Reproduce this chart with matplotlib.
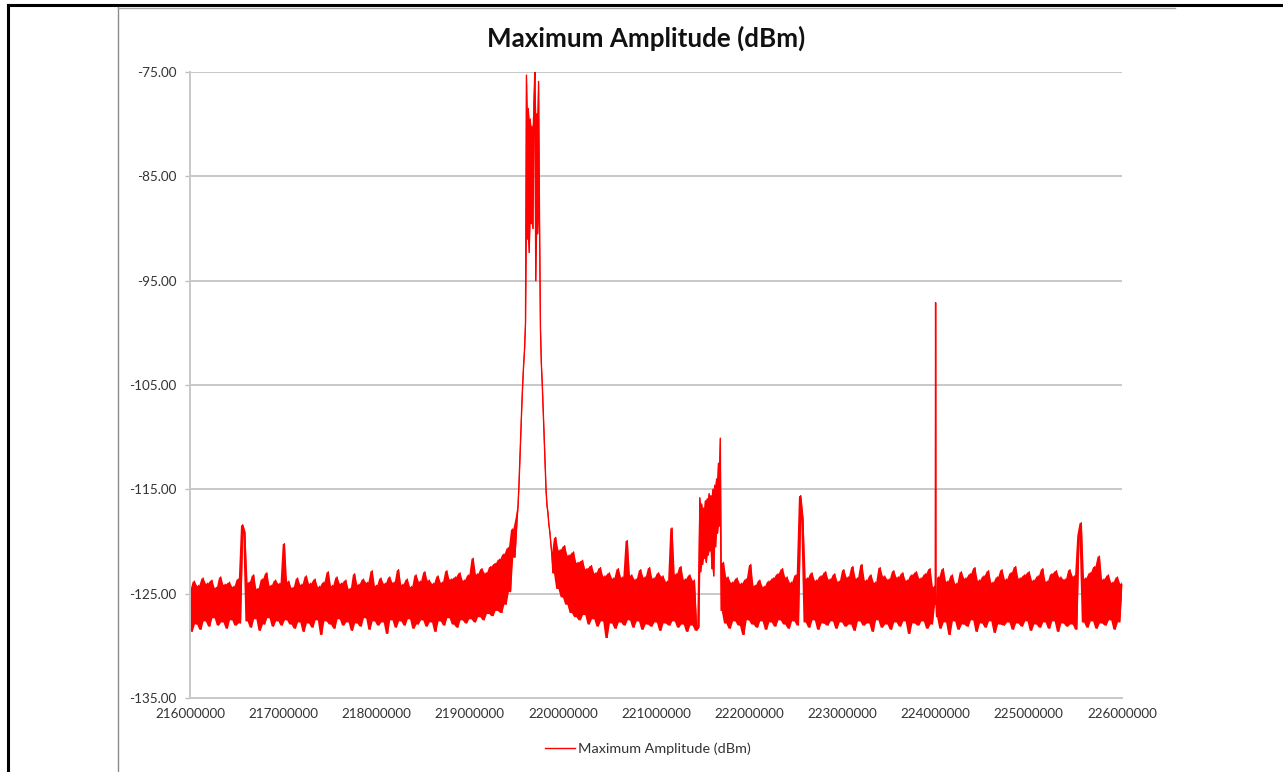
import numpy as np
from matplotlib import pyplot as plt
from matplotlib.lines import Line2D

# trace, in pieces: start / stop frequency (MHz) and amplitude (dBm)
left_start, left_stop = 216.00, 219.51
left_noise = [
    -124.6, -128.6, -123.8, -127.9, -124.2, -128.4, -123.5, -127.6, -124.0, -128.1,
    -123.7, -127.3, -124.4, -128.0, -123.4, -127.7, -124.1, -128.3, -123.9, -127.5,
    -124.3, -128.0, -123.6, -127.8, -118.4, -119.1, -127.6, -123.9, -128.2, -123.2,
    -127.4, -124.5, -128.5, -123.6, -127.9, -123.0, -127.3, -124.2, -128.1, -123.7,
    -127.6, -124.0, -128.0, -120.2, -127.5, -123.8, -127.9, -124.4, -128.3, -123.5,
    -127.7, -124.1, -128.6, -123.3, -127.8, -124.0, -128.2, -123.6, -127.5, -124.3,
    -128.9, -123.9, -127.6, -122.9, -127.9, -124.2, -128.3, -123.4, -127.4, -124.0,
    -128.0, -123.7, -127.7, -124.5, -128.5, -123.1, -127.8, -124.1, -128.1, -123.6,
    -127.3, -123.9, -128.4, -122.8, -127.6, -124.2, -128.0, -123.5, -127.7, -124.0,
    -128.8, -123.4, -127.5, -123.9, -128.2, -122.7, -127.6, -124.1, -128.0, -123.6,
    -127.4, -124.3, -128.3, -123.2, -127.9, -123.8, -127.5, -122.9, -128.1, -123.7,
    -127.7, -124.0, -128.6, -123.3, -127.6, -123.9, -128.0, -122.8, -127.3, -123.6,
    -127.9, -123.4, -128.2, -123.0, -127.5, -123.7, -127.8, -123.2, -127.4, -121.6,
    -127.7, -123.1, -127.2, -122.6, -127.5, -123.0, -126.9, -122.4, -127.1, -122.1,
    -126.6, -121.7, -126.8, -121.2, -126.0, -120.6, -124.8, -118.8, -121.5, -117.8,
]

carrier_start, carrier_stop = 219.52, 219.88
carrier = [
    -116.5, -114.5, -112.0, -109.5, -107.0, -104.8, -103.0, -101.5, -99.0,
    -75.3, -91.0, -78.5, -92.3, -79.5, -89.5, -80.2, -90.0, -78.0, -75.0,
    -95.0, -79.0, -90.5, -75.9, -89.0,
    -99.5, -103.0, -105.0, -107.5, -110.0, -112.5, -115.0, -116.5, -117.2,
    -118.3, -119.0, -120.0, -121.0,
]

mid_start, mid_stop = 219.90, 221.46
mid_noise = [
    -123.0, -119.6, -124.5, -120.8, -125.3, -120.4, -126.0, -121.3, -126.8, -121.0,
    -127.2, -122.0, -127.5, -121.8, -127.0, -122.6, -127.9, -122.3, -127.4, -123.0,
    -128.1, -122.5, -127.6, -123.3, -129.2, -123.0, -127.8, -123.5, -128.3, -122.6,
    -127.7, -123.4, -128.0, -119.9, -127.5, -123.2, -128.2, -123.6, -127.6, -122.7,
    -128.4, -123.4, -127.9, -122.5, -128.1, -123.5, -127.7, -123.0, -128.5, -123.3,
    -127.8, -123.8, -128.0, -118.7, -127.6, -123.1, -128.2, -122.4, -127.9, -123.6,
    -128.6, -123.2, -128.0, -123.7, -128.5, -128.2,
]

hump_start, hump_stop = 221.47, 221.69
hump = [
    -115.8, -122.9, -116.4, -122.2, -116.8, -121.6, -116.1, -122.0, -115.9, -121.3,
    -115.4, -120.9, -115.6, -122.6, -115.0, -123.3, -114.6, -120.5, -114.0, -119.2,
    -112.5, -118.5, -110.1,
]

right_start, right_stop = 221.70, 223.99
right_noise = [
    -126.6, -122.0, -127.8, -123.4, -128.3, -123.9, -127.6, -123.5, -128.0, -124.0,
    -128.9, -123.6, -127.5, -122.2, -127.9, -124.2, -128.2, -123.7, -127.6, -124.3,
    -128.4, -123.8, -127.7, -123.5, -128.1, -123.1, -127.5, -122.6, -127.9, -123.4,
    -128.3, -123.9, -127.6, -123.2, -128.0, -115.6, -117.8, -127.7, -123.5, -128.2,
    -123.0, -127.5, -123.7, -128.4, -123.3, -127.8, -122.9, -128.0, -123.6, -127.6,
    -123.1, -128.3, -123.8, -127.7, -122.7, -128.1, -123.4, -127.9, -122.4, -128.5,
    -123.5, -127.6, -122.2, -128.0, -123.7, -127.8, -123.2, -128.6, -123.9, -127.5,
    -122.5, -128.2, -123.3, -127.9, -123.6, -128.4, -122.8, -127.7, -123.4, -128.1,
    -123.0, -127.6, -123.7, -128.8, -123.2, -127.8, -122.9, -128.0, -123.5, -127.6,
    -123.1, -128.3, -122.6, -127.9, -124.3,
]

spur_start, spur_stop = 223.996, 224.004
spur = [-126.0, -97.1, -125.8]

far_start, far_stop = 224.01, 226.00
far_noise = [
    -127.2, -123.4, -128.3, -122.6, -127.7, -123.8, -128.9, -123.2, -127.6, -124.0,
    -128.4, -122.9, -127.9, -123.5, -128.1, -123.1, -127.5, -122.5, -128.6, -123.7,
    -127.8, -123.3, -128.2, -122.8, -127.6, -123.9, -128.7, -123.4, -127.9, -122.7,
    -128.0, -123.6, -127.7, -123.0, -128.4, -122.4, -127.8, -123.5, -128.1, -123.2,
    -127.6, -122.9, -128.5, -123.7, -127.9, -123.3, -128.2, -122.6, -127.7, -123.8,
    -128.3, -123.1, -127.6, -122.8, -128.6, -123.4, -127.8, -123.6, -128.1, -122.7,
    -127.9, -123.3, -128.4, -119.4, -118.2, -127.7, -123.5, -128.2, -123.0, -127.6,
    -122.4, -128.3, -121.4, -127.8, -123.6, -128.0, -123.2, -127.5, -123.9, -128.4,
    -123.4, -127.7, -124.0,
]

x_ticks = [216000000, 217000000, 218000000, 219000000, 220000000, 221000000,
           222000000, 223000000, 224000000, 225000000, 226000000]
y_ticks = [-135.0, -125.0, -115.0, -105.0, -95.0, -85.0, -75.0]

title = "Maximum Amplitude (dBm)"
series_name = "Maximum Amplitude (dBm)"


def build_trace():
    segments = [
        (left_start, left_stop, left_noise),
        (carrier_start, carrier_stop, carrier),
        (mid_start, mid_stop, mid_noise),
        (hump_start, hump_stop, hump),
        (right_start, right_stop, right_noise),
        (spur_start, spur_stop, spur),
        (far_start, far_stop, far_noise),
    ]
    freq = np.concatenate([np.linspace(a, b, len(v)) for a, b, v in segments]) * 1e6
    amp = np.concatenate([np.asarray(v, dtype=float) for a, b, v in segments])
    return freq, amp


def plot_graph():
    plt.rcParams['font.family'] = ['Lato', 'DejaVu Sans']
    W, H = 1283, 772
    fig = plt.figure(figsize=(W / 100, H / 100), dpi=100)
    ax = fig.add_axes([190 / W, 1 - 698 / H, (1122 - 190) / W, (698 - 72) / H])

    freq, amp = build_trace()
    # the original trace is far denser than what was read off, so fill the span
    # between each sample and the next to get the solid noise band, then the line on top
    hi = np.append(np.maximum(amp[:-1], amp[1:]), amp[-1])
    lo = np.append(np.minimum(amp[:-1], amp[1:]), amp[-1])
    ax.fill_between(freq, lo, hi, color='#ff0000', linewidth=0)
    ax.plot(freq, amp, color='#ff0000', linewidth=1.0)

    ax.set_xlim(x_ticks[0], x_ticks[-1])
    ax.set_ylim(y_ticks[0], y_ticks[-1])
    ax.set_xticks(x_ticks)
    ax.set_xticklabels([str(t) for t in x_ticks])
    ax.set_yticks(y_ticks)
    ax.set_yticklabels(["%.2f" % t for t in y_ticks])
    ax.tick_params(axis='x', length=0, pad=7, labelsize=9.7, colors='#333333')
    ax.tick_params(axis='y', length=3.5, width=1, color='#bfbfbf', pad=6,
                   labelsize=9.7, labelcolor='#333333')

    ax.grid(axis='y', color='#c8c8c8', linewidth=1.4)
    ax.set_axisbelow(True)
    for s in ['top', 'right']:
        ax.spines[s].set_visible(False)
    for s in ['left', 'bottom']:
        ax.spines[s].set_color('#c8c8c8')
        ax.spines[s].set_linewidth(1.4)

    fig.text(646 / W, 1 - 38 / H, title, ha='center', va='center',
             fontsize=18.7, fontweight='bold', color='#111111')

    handle = Line2D([], [], color='#ff0000', linewidth=1.0)
    fig.legend(handles=[handle], labels=[series_name], loc='center',
               bbox_to_anchor=(648 / W, 1 - 749 / H), frameon=False, fontsize=10.4,
               handlelength=2.1, handletextpad=0.2, labelcolor='#333333')

    # outer frame and chart-area border
    fig.add_artist(Line2D([8 / W, 8 / W], [0, 1 - 5 / H], color='black', linewidth=2.2))
    fig.add_artist(Line2D([8 / W, 1], [1 - 5 / H, 1 - 5 / H], color='black', linewidth=2.2))
    fig.add_artist(Line2D([118 / W, 118 / W], [0, 1 - 7 / H], color='#8c8c8c', linewidth=1.0))
    fig.add_artist(Line2D([118 / W, 1175 / W], [1 - 7.5 / H, 1 - 7.5 / H], color='#a6a6a6', linewidth=1.0))

    fig.savefig("out.png", dpi=100)


if __name__ == "__main__":
    plot_graph()
